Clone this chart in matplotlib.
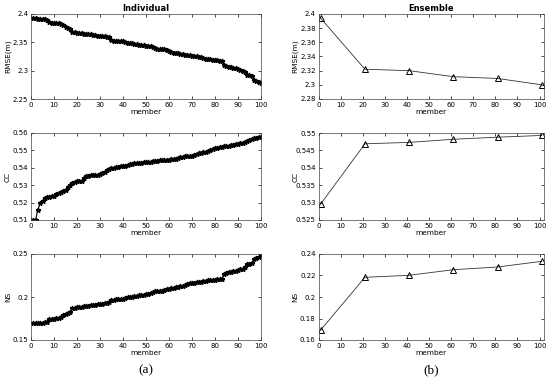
import matplotlib
matplotlib.use("Agg")
import matplotlib.pyplot as plt
import numpy as np

# individual members (sorted), 1..100
members = np.arange(1, 101)
rmse_ind = [
    2.393, 2.393, 2.392, 2.392, 2.391, 2.391, 2.390, 2.386, 2.385, 2.385,
    2.384, 2.384, 2.383, 2.380, 2.377, 2.375, 2.373, 2.369, 2.368, 2.367,
    2.367, 2.366, 2.365, 2.365, 2.364, 2.364, 2.363, 2.363, 2.362, 2.362,
    2.361, 2.361, 2.360, 2.359, 2.354, 2.353, 2.353, 2.353, 2.352, 2.352,
    2.351, 2.349, 2.348, 2.348, 2.347, 2.347, 2.346, 2.345, 2.345, 2.344,
    2.343, 2.343, 2.342, 2.340, 2.339, 2.339, 2.338, 2.338, 2.336, 2.334,
    2.333, 2.332, 2.331, 2.331, 2.330, 2.329, 2.328, 2.327, 2.327, 2.326,
    2.325, 2.325, 2.324, 2.324, 2.323, 2.321, 2.321, 2.320, 2.319, 2.318,
    2.318, 2.317, 2.317, 2.310, 2.308, 2.307, 2.306, 2.305, 2.304, 2.303,
    2.302, 2.300, 2.298, 2.293, 2.292, 2.291, 2.283, 2.281, 2.280, 2.278,
]
cc_ind = [
    0.5100, 0.5102, 0.5160, 0.5195, 0.5210, 0.5225, 0.5230, 0.5235, 0.5238, 0.5240,
    0.5248, 0.5255, 0.5262, 0.5268, 0.5275, 0.5290, 0.5300, 0.5310, 0.5318, 0.5322,
    0.5323, 0.5325, 0.5340, 0.5350, 0.5355, 0.5357, 0.5358, 0.5359, 0.5360, 0.5362,
    0.5368, 0.5375, 0.5385, 0.5395, 0.5397, 0.5399, 0.5402, 0.5405, 0.5408, 0.5410,
    0.5412, 0.5415, 0.5420, 0.5424, 0.5426, 0.5428, 0.5429, 0.5430, 0.5432, 0.5433,
    0.5434, 0.5436, 0.5437, 0.5438, 0.5440, 0.5442, 0.5443, 0.5445, 0.5446, 0.5447,
    0.5448, 0.5450, 0.5453, 0.5457, 0.5462, 0.5464, 0.5465, 0.5466, 0.5467, 0.5468,
    0.5472, 0.5478, 0.5483, 0.5485, 0.5488, 0.5492, 0.5497, 0.5502, 0.5507, 0.5511,
    0.5514, 0.5517, 0.5520, 0.5523, 0.5526, 0.5528, 0.5530, 0.5532, 0.5534, 0.5536,
    0.5540, 0.5545, 0.5550, 0.5555, 0.5560, 0.5565, 0.5570, 0.5573, 0.5576, 0.5578,
]
ns_ind = [
    0.1694, 0.1695, 0.1697, 0.1700, 0.1703, 0.1705, 0.1708, 0.1745, 0.1748, 0.1750,
    0.1753, 0.1757, 0.1765, 0.1789, 0.1800, 0.1816, 0.1830, 0.1868, 0.1875, 0.1880,
    0.1884, 0.1888, 0.1892, 0.1896, 0.1900, 0.1903, 0.1907, 0.1911, 0.1915, 0.1920,
    0.1923, 0.1926, 0.1930, 0.1940, 0.1966, 0.1969, 0.1972, 0.1974, 0.1976, 0.1978,
    0.1985, 0.1995, 0.2000, 0.2004, 0.2008, 0.2013, 0.2018, 0.2024, 0.2029, 0.2034,
    0.2040, 0.2048, 0.2058, 0.2065, 0.2068, 0.2070, 0.2075, 0.2083, 0.2090, 0.2097,
    0.2105, 0.2110, 0.2116, 0.2121, 0.2126, 0.2133, 0.2140, 0.2150, 0.2157, 0.2164,
    0.2168, 0.2171, 0.2174, 0.2177, 0.2182, 0.2187, 0.2192, 0.2196, 0.2200, 0.2203,
    0.2207, 0.2211, 0.2215, 0.2270, 0.2280, 0.2288, 0.2296, 0.2303, 0.2308, 0.2314,
    0.2320, 0.2328, 0.2345, 0.2380, 0.2385, 0.2390, 0.2440, 0.2450, 0.2465, 0.2492,
]

# ensemble sizes
ens_members = [1, 21, 41, 61, 81, 101]
rmse_ens = [2.394, 2.322, 2.320, 2.3115, 2.309, 2.300]
cc_ens = [0.5296, 0.5469, 0.5473, 0.5482, 0.5488, 0.5493]
ns_ens = [0.1693, 0.2183, 0.2202, 0.2254, 0.2279, 0.2332]

ylabels = ["RMSE(m)", "CC", "NS"]
ind_ylims = [(2.25, 2.4), (0.51, 0.56), (0.15, 0.25)]
ind_yticks = [[2.25, 2.3, 2.35, 2.4], [0.51, 0.52, 0.53, 0.54, 0.55, 0.56], [0.15, 0.2, 0.25]]
ytick_labels_ind = [["2.25", "2.3", "2.35", "2.4"],
                    ["0.51", "0.52", "0.53", "0.54", "0.55", "0.56"],
                    ["0.15", "0.2", "0.25"]]
ens_ylims = [(2.28, 2.4), (0.525, 0.55), (0.16, 0.24)]
ens_yticks = [[2.28, 2.30, 2.32, 2.34, 2.36, 2.38, 2.4],
              [0.525, 0.53, 0.535, 0.54, 0.545, 0.55],
              [0.16, 0.18, 0.2, 0.22, 0.24]]
ytick_labels_ens = [["2.28", "2.3", "2.32", "2.34", "2.36", "2.38", "2.4"],
                    ["0.525", "0.53", "0.535", "0.54", "0.545", "0.55"],
                    ["0.16", "0.18", "0.2", "0.22", "0.24"]]

plt.rcParams['font.family'] = ['DejaVu Sans']
plt.rcParams['font.size'] = 5.3

fig = plt.figure(figsize=(5.5, 3.8), dpi=100)

W, H = 550.0, 380.0
rows = [(14, 99), (133, 220), (254, 340)]
cols = [(31, 261), (318.5, 544)]
ylabel_x = [-0.088, -0.09]


def style(ax):
    ax.tick_params(direction='in', length=2.5, width=0.5, top=True, right=True,
                   labelsize=5.0, pad=2)
    for s in ax.spines.values():
        s.set_linewidth(0.5)
        s.set_color('#444444')


ind_data = [rmse_ind, cc_ind, ns_ind]
ens_data = [rmse_ens, cc_ens, ns_ens]

for i, (top, bot) in enumerate(rows):
    # individual column
    l, r = cols[0]
    ax = fig.add_axes([l / W, 1 - bot / H, (r - l) / W, (bot - top) / H])
    ax.plot(members, ind_data[i], color='black', marker='*', markersize=3.5,
            linewidth=0.8)
    ax.set_xlim(0, 100)
    ax.set_ylim(*ind_ylims[i])
    ax.set_yticks(ind_yticks[i])
    ax.set_yticklabels(ytick_labels_ind[i])
    ax.set_xticks(range(0, 101, 10))
    ax.set_ylabel(ylabels[i], fontsize=5.3)
    ax.yaxis.set_label_coords(ylabel_x[0], 0.5)
    ax.set_xlabel("member", labelpad=1)
    style(ax)
    if i == 0:
        ax.set_title("Individual", fontsize=6, fontweight='bold', pad=2)

    # ensemble column
    l, r = cols[1]
    ax = fig.add_axes([l / W, 1 - bot / H, (r - l) / W, (bot - top) / H])
    ax.plot(ens_members, ens_data[i], color='#333333', marker='^', markersize=4,
            markerfacecolor='none', markeredgecolor='black', markeredgewidth=0.7,
            linewidth=0.6)
    ax.set_xlim(0, 102)
    ax.set_ylim(*ens_ylims[i])
    ax.set_yticks(ens_yticks[i])
    ax.set_yticklabels(ytick_labels_ens[i])
    ax.set_xticks(range(0, 101, 10))
    ax.set_ylabel(ylabels[i], fontsize=5.3)
    ax.yaxis.set_label_coords(ylabel_x[1], 0.5)
    ax.set_xlabel("member", labelpad=1)
    style(ax)
    if i == 0:
        ax.set_title("Ensemble", fontsize=6, fontweight='bold', pad=2)

fig.text((31 + 261) / 2 / W, 1 - 370 / H, "(a)", ha='center', va='center',
         fontsize=9.5, family='Liberation Serif')
fig.text((318.5 + 544) / 2 / W, 1 - 370 / H, "(b)", ha='center', va='center',
         fontsize=9.5, family='Liberation Serif')

fig.savefig("out.png", dpi=100)
